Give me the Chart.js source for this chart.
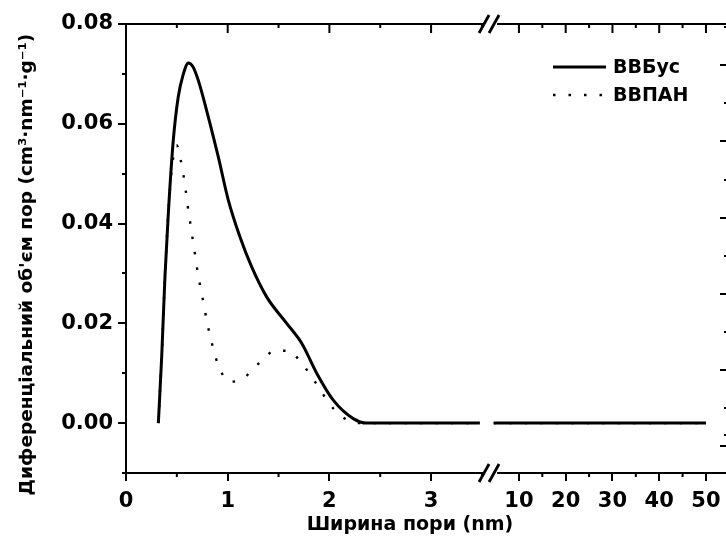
<!DOCTYPE html>
<html>
<head>
<meta charset="utf-8">
<script src="https://cdn.jsdelivr.net/npm/chart.js@4.4.0/dist/chart.umd.min.js"></script>
<style>
html, body { margin: 0; padding: 0; overflow: hidden; background: #fff; }
#wrap { width: 740px; height: 540px; position: relative; }
</style>
</head>
<body>
<div id="wrap"><canvas id="myChart"></canvas></div>
<script>
// pore width, nm  (null in Y = axis break)
var bbusX = [0.318, 0.351, 0.383, 0.416, 0.465, 0.514, 0.56, 0.613, 0.66, 0.711, 0.809, 0.907, 1.006, 1.121, 1.236, 1.383, 1.580, 1.728, 1.875, 2.038, 2.235, 2.367, 2.6, 3.0, 3.48, 3.55, 4.6, 10, 20, 30, 40, 50];
var bbusY = [0, 0.0133, 0.0293, 0.0420, 0.0567, 0.0654, 0.0697, 0.0722, 0.0714, 0.0687, 0.0614, 0.0534, 0.0447, 0.0373, 0.0313, 0.0253, 0.0200, 0.0160, 0.0100, 0.0046, 0.0009, 0, 0, 0, 0, null, 0, 0, 0, 0, 0, 0];

var bbpanX = [0.318, 0.351, 0.383, 0.416, 0.45, 0.498, 0.538, 0.563, 0.587, 0.607, 0.632, 0.656, 0.681, 0.705, 0.735, 0.767, 0.796, 0.833, 0.875, 0.931, 1.016, 1.160, 1.252, 1.344, 1.458, 1.606, 1.711, 1.826, 1.930, 2.045, 2.170, 2.3, 2.6, 3.0, 3.48, 3.55, 4.6, 10, 20, 30, 40, 50];
var bbpanY = [0, 0.0133, 0.0293, 0.0420, 0.0510, 0.0557, 0.0527, 0.0500, 0.0467, 0.0435, 0.0401, 0.0368, 0.0335, 0.0302, 0.0269, 0.0236, 0.0203, 0.0170, 0.0136, 0.0105, 0.0083, 0.0090, 0.0110, 0.0126, 0.0145, 0.0145, 0.0124, 0.0093, 0.0060, 0.0028, 0.0007, 0, 0, 0, 0, null, 0, 0, 0, 0, 0, 0];

var xTickLabels = [0, 1, 2, 3, 10, 20, 30, 40, 50];
var xMinorTicks = [0.5, 1.5, 2.5, 3.5, 15, 25, 35, 45];
var yTickLabels = [0.00, 0.02, 0.04, 0.06, 0.08];
var yMinorTicks = [-0.01, 0.01, 0.03, 0.05, 0.07];

// broken x axis: 0..3.6 linear, then 10..50 compressed
var BREAK = 3.58;
function toU(v) {
  return v <= 3.6 ? v : 3.864 + (v - 10) * 0.04598;
}
function pts(xs, ys) {
  return xs.map(function(x, i) { return {x: toU(x), y: ys[i]}; });
}

var FONT = '"DejaVu Sans", Arial, sans-serif';
Chart.defaults.font.family = FONT;
Chart.defaults.color = '#000';

var extras = {
  id: 'extras',
  afterDraw: function(chart) {
    var c = chart.ctx, a = chart.chartArea;
    var x = chart.scales.x, y = chart.scales.y, y2 = chart.scales.y2;
    c.save();
    c.strokeStyle = '#000';
    c.lineWidth = 2;
    c.beginPath();
    // left minor ticks
    yMinorTicks.forEach(function(v) {
      var p = Math.round(y.getPixelForValue(v));
      c.moveTo(a.left, p); c.lineTo(a.left - 4, p);
    });
    // bottom minor ticks, top ticks
    xMinorTicks.forEach(function(v) {
      var p = x.getPixelForValue(toU(v));
      c.moveTo(p, a.bottom); c.lineTo(p, a.bottom + 4);
      c.moveTo(p, a.top); c.lineTo(p, a.top + 4);
    });
    xTickLabels.forEach(function(v) {
      var p = x.getPixelForValue(toU(v));
      c.moveTo(p, a.top); c.lineTo(p, a.top + 9);
    });
    // right axis ticks (inward)
    y2.ticks.forEach(function(t) {
      var p = Math.round(y2.getPixelForValue(t.value));
      c.moveTo(a.right, p); c.lineTo(a.right - 7, p);
      var q = Math.round(y2.getPixelForValue(t.value + 0.5));
      if (q > a.top) { c.moveTo(a.right, q); c.lineTo(a.right - 3, q); }
    });
    c.stroke();
    // axis break marks
    var bx = x.getPixelForValue(BREAK);
    [a.top, a.bottom].forEach(function(py) {
      c.fillStyle = '#fff';
      c.fillRect(bx - 7, py - 3, 14, 6);
      c.beginPath();
      c.lineWidth = 2.8;
      c.moveTo(bx - 11, py + 9); c.lineTo(bx - 1, py - 9);
      c.moveTo(bx - 1, py + 9); c.lineTo(bx + 9, py - 9);
      c.stroke();
    });
    // legend
    c.font = 'bold 19px ' + FONT;
    c.textBaseline = 'middle';
    c.fillStyle = '#000';
    chart.data.datasets.forEach(function(ds, i) {
      var ly = 67 + i * 28;
      c.beginPath();
      c.lineWidth = ds.borderWidth;
      c.setLineDash(ds.borderDash || []);
      c.moveTo(553, ly); c.lineTo(606, ly);
      c.stroke();
      c.setLineDash([]);
      c.fillText(ds.label, 613, ly + 1);
    });
    c.restore();
  }
};

var ctx = document.getElementById('myChart').getContext('2d');
var myChart = new Chart(ctx, {
  type: 'line',
  data: {
    datasets: [
      {
        label: 'ВВБус',
        data: pts(bbusX, bbusY),
        borderColor: '#000',
        borderWidth: 3,
        pointRadius: 0,
        cubicInterpolationMode: 'monotone',
        spanGaps: false
      },
      {
        label: 'ВВПАН',
        data: pts(bbpanX, bbpanY),
        borderColor: '#000',
        borderWidth: 2.4,
        borderDash: [2.5, 13],
        pointRadius: 0,
        cubicInterpolationMode: 'monotone',
        spanGaps: false
      }
    ]
  },
  options: {
    responsive: true,
    maintainAspectRatio: false,
    animation: false,
    layout: { padding: 0 },
    plugins: { legend: { display: false }, tooltip: { enabled: false } },
    scales: {
      x: {
        type: 'linear', position: 'bottom', min: 0, max: 5.91,
        afterBuildTicks: function(s) { s.ticks = xTickLabels.map(function(v) { return {value: toU(v)}; }); },
        afterFit: function(s) { s.height = 67; },
        ticks: {
          autoSkip: false, maxRotation: 0, padding: 8,
          font: { size: 21, weight: 'bold' },
          callback: function(val, i) { return String(xTickLabels[i]); }
        },
        grid: { drawOnChartArea: false, color: '#000', lineWidth: 2, tickLength: 8 },
        border: { color: '#000', width: 2 },
        title: {
          display: true, text: 'Ширина пори (nm)     ',
          font: { size: 19, weight: 'bold' }, padding: { top: 0, bottom: 4 }
        }
      },
      x2: {
        type: 'linear', position: 'top', min: 0, max: 5.91,
        afterFit: function(s) { s.height = 24; },
        ticks: { display: false },
        grid: { drawOnChartArea: false, drawTicks: false },
        border: { color: '#000', width: 2 }
      },
      y: {
        type: 'linear', position: 'left', min: -0.01, max: 0.08,
        afterBuildTicks: function(s) { s.ticks = yTickLabels.map(function(v) { return {value: v}; }); },
        afterFit: function(s) { s.width = 126; },
        ticks: {
          padding: 5,
          font: { size: 21, weight: 'bold' },
          callback: function(val) { return val.toFixed(2); }
        },
        grid: { drawOnChartArea: false, color: '#000', lineWidth: 2, tickLength: 8 },
        border: { color: '#000', width: 2 },
        title: {
          display: true, text: 'Диференціальний об\'єм пор (cm³·nm⁻¹·g⁻¹)     ',
          font: { size: 18.5, weight: 'bold' }, padding: { top: 16, bottom: 0 }
        }
      },
      y2: {
        type: 'linear', position: 'right', min: -0.35, max: 5.54,
        afterFit: function(s) { s.width = 13; },
        ticks: { display: false, stepSize: 1 },
        grid: { drawOnChartArea: false, drawTicks: false },
        border: { display: false }
      }
    }
  },
  plugins: [extras]
});
</script>
</body>
</html>
